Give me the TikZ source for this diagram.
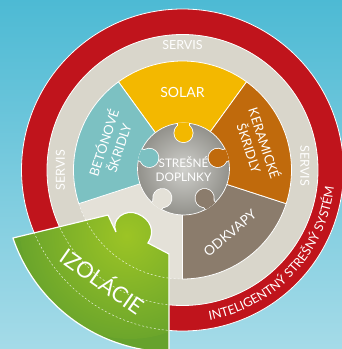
\documentclass[tikz,border=0pt]{standalone}
\usepackage{fontspec}
\setmainfont{Lato}
\usetikzlibrary{decorations.text,calc}
\definecolor{bgtop}{HTML}{4DBAD4}
\definecolor{bgbot}{HTML}{A5DBE8}
\definecolor{redring}{HTML}{C0141C}
\definecolor{ringgray}{HTML}{D9D6CB}
\definecolor{slotgray}{HTML}{E4E1D8}
\definecolor{solar}{HTML}{F3B800}
\definecolor{beton}{HTML}{7CC1C2}
\definecolor{keram}{HTML}{C06A0C}
\definecolor{odkv}{HTML}{8B7C6C}
\definecolor{gearin}{HTML}{D0D0CC}
\definecolor{gearout}{HTML}{92918B}
\definecolor{greenpc}{HTML}{66A22C}
\definecolor{greenlt}{HTML}{9CC425}
\begin{document}
\begin{tikzpicture}[x=1pt,y=1pt,
  lbl/.style={text=white, inner sep=0pt, align=center},
  segedge/.style={draw=white, line width=0.8pt},
  dashline/.style={draw=white, dash pattern=on 2pt off 2pt, line width=0.5pt, opacity=0.8}]
\useasboundingbox (0,0) rectangle (342,349);
\shade[top color=bgtop, bottom color=bgbot] (0,0) rectangle (342,349);
\coordinate (C) at (182.5,179);
% rings
\fill[redring, draw=white, line width=0.8pt] (C) circle (161);
\fill[ringgray, draw=white, line width=0.8pt] (C) circle (135.5);
% empty slot
\fill[slotgray] (C) -- ++(198:109) arc[start angle=198, end angle=270, radius=109] -- cycle;
% segments
\foreach \a/\col in {54/solar,126/beton,270/odkv,342/keram}
  \fill[\col, segedge] (C) -- ++(\a:109) arc[start angle=\a, end angle=\a+72, radius=109] -- cycle;
% gear
\coordinate (G) at (183.5,180);
\shade[inner color=gearin, outer color=gearout, draw=white, line width=0.7pt] (G) circle (46);
\begin{scope}
  \clip (G) circle (46.4);
  \foreach \a/\col in {90/solar,162/beton,234/slotgray,306/odkv,18/keram} {
    \begin{scope}[shift={(G)}, rotate=\a]
      \fill[white] (36,-6.6) rectangle (50,6.6);
      \fill[white] (36,0) circle (10);
      \fill[\col] (36,-5.8) rectangle (50,5.8);
      \fill[\col] (36,0) circle (9.2);
    \end{scope}
  }
\end{scope}
\node[lbl, font=\fontsize{11.8}{14}\selectfont] (core) at (G) {STREŠNÉ\\DOPLNKY};
% dashed trace of the slot
\path[dashline] (C) ++(198:109) arc[start angle=198, end angle=270, radius=109];
% ring labels
\node[lbl, font=\fontsize{12.5}{14}\selectfont] (servtop) at (182.5,304) {SERVIS};
\node[lbl, font=\fontsize{12.5}{14}\selectfont, rotate=90] (servleft) at ($(C)+(180:122)$) {SERVIS};
\node[lbl, font=\fontsize{12.5}{14}\selectfont, rotate=-90] (servright) at ($(C)+(2:122.5)$) {SERVIS};
\path[decorate, decoration={text along path, text align=center, text color=white,
  text={|\fontsize{12.5}{14}\selectfont|INTELIGENTNÝ STREŠNÝ SYSTÉM}}]
  (C) ++(-90:152.5) arc[start angle=-90, end angle=4, radius=152.5];
% segment labels
\node[lbl, font=\fontsize{14}{16}\selectfont] (solar) at (182.5,257) {SOLAR};
\node[lbl, font=\fontsize{13}{16}\selectfont, rotate=72] (beton) at ($(C)+(161:76)$) {BETÓNOVÉ\\ŠKRIDLY};
\node[lbl, font=\fontsize{13}{16}\selectfont, rotate=-72] (keram) at ($(C)+(18:79)$) {KERAMICKÉ\\ŠKRIDLY};
\node[lbl, font=\fontsize{13.5}{16}\selectfont, rotate=40] (odkv) at ($(C)+(-53:79)$) {ODKVAPY};
% pulled-out piece
\def\piece{(13,111) -- (108,134) -- (116,117) .. controls (110,130) and (126,141) .. (138,135)
  .. controls (150,130) and (156,118) .. (148,106) -- (169,95) -- (169,-3)
  arc[start angle=268.97, end angle=198.8, radius=168] -- cycle}
\fill[greenpc, draw=white, line width=1.2pt,
  path picture={\shade[inner color=greenlt, outer color=greenpc] (130,120) circle (110);}] \piece;
\begin{scope}
  \clip \piece;
  \foreach \r in {109,135.5,161}
    \path[dashline] (C) ++(190:\r) arc[start angle=190, end angle=272, radius=\r];
\end{scope}
\node[lbl, font=\fontsize{22}{24}\selectfont, rotate=-35] (izol) at (103,69) {IZOLÁCIE};
\end{tikzpicture}
\end{document}
